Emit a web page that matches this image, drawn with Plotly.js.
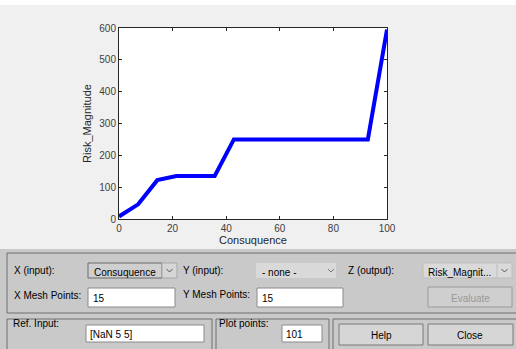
<!DOCTYPE html>
<html><head><meta charset="utf-8">
<script src="https://cdn.plot.ly/plotly-3.0.1.min.js"></script>
<style>html,body{margin:0;padding:0;background:#f0f0f0;overflow:hidden}</style>
</head><body><div id="chart" style="width:516px;height:349px"></div>
<script>
// ---- data ----
const consequence = [0, 7.14, 14.29, 21.43, 28.57, 35.71, 42.86, 50, 57.14, 64.29, 71.43, 78.57, 85.71, 92.86, 100];
const riskMagnitude = [8, 46, 122, 135, 135, 135, 250, 250, 250, 250, 250, 250, 250, 250, 595];
const xTicks = [0, 20, 40, 60, 80, 100];
const yTicks = [0, 100, 200, 300, 400, 500, 600];
const xLabel = 'Consuquence';
const yLabel = 'Risk_Magnitude';
// control panel texts
const xInputLabel = 'X (input):', xInputValue = 'Consuquence';
const yInputLabel = 'Y (input):', yInputValue = '- none -';
const zOutputLabel = 'Z (output):', zOutputValue = 'Risk_Magnit...';
const xMeshLabel = 'X Mesh Points:', xMeshValue = '15';
const yMeshLabel = 'Y Mesh Points:', yMeshValue = '15';
const refInputLabel = 'Ref. Input:', refInputValue = '[NaN 5 5]';
const plotPointsLabel = 'Plot points:', plotPointsValue = '101';
const buttonLabels = ['Evaluate', 'Help', 'Close'];

// ---- layout helpers (pixel -> paper) ----
const W = 516, H = 349, L = 119, R = 387, T = 28, B = 219;
const xp = px => (px - L) / (R - L);
const yp = py => (B - py) / (B - T);
const FONT = 'Liberation Sans, Arial, sans-serif';

const shapes = [];
function rect(x0, y0, x1, y1, fill, line, lw, dash) {
  shapes.push({type: 'rect', xref: 'paper', yref: 'paper', layer: 'above',
    x0: xp(x0), x1: xp(x1), y0: yp(y0), y1: yp(y1),
    fillcolor: fill || 'rgba(0,0,0,0)',
    line: {color: line || 'rgba(0,0,0,0)', width: lw === undefined ? 1 : lw, dash: dash || 'solid'}});
}
function seg(x0, y0, x1, y1, color) {
  shapes.push({type: 'line', xref: 'paper', yref: 'paper', layer: 'above',
    x0: xp(x0), x1: xp(x1), y0: yp(y0), y1: yp(y1), line: {color: color, width: 1}});
}
function chevron(cx, cy, color) {
  shapes.push({type: 'path', xref: 'paper', yref: 'paper', layer: 'above',
    path: `M ${xp(cx - 3)},${yp(cy - 1.5)} L ${xp(cx)},${yp(cy + 1.5)} L ${xp(cx + 3)},${yp(cy - 1.5)}`,
    line: {color: color, width: 1}});
}
const annotations = [];
function txt(x, y, s, opts) {
  opts = opts || {};
  annotations.push({xref: 'paper', yref: 'paper', x: xp(x), y: yp(y), text: s, showarrow: false,
    xanchor: opts.anchor || 'left', yanchor: 'middle', borderpad: 0,
    font: {family: FONT, size: opts.size || 10, color: opts.color || '#000000'}});
}

// white strip at top
shapes.push({type: 'rect', xref: 'paper', yref: 'paper', layer: 'below',
  x0: xp(0), x1: xp(W), y0: yp(0), y1: yp(5), fillcolor: '#ffffff', line: {width: 0}});
// panel background
rect(0, 249, W + 2, H + 2, '#c9c9c9', 'rgba(0,0,0,0)', 0);
// frames
rect(7, 253, W + 3, 313, null, '#6f6f6f', 1);
rect(7, 319, 212, H + 3, null, '#6f6f6f', 1);
rect(216, 319, 329, H + 3, null, '#6f6f6f', 1);
rect(333, 319, W + 3, H + 3, null, '#6f6f6f', 1);

// dropdowns
rect(88, 263, 162, 278, '#cfcfcf', '#6a6a6a', 1);
rect(162, 263, 177, 278, '#d6d6d6', '#a8a8a8', 1);
chevron(169.5, 270.5, '#555555');
rect(256, 263, 336, 278, '#d9d9d9', 'rgba(0,0,0,0)', 0);
chevron(331, 270.5, '#777777');
rect(423, 263, 512, 278, '#dadada', '#bdbdbd', 1);
seg(497, 264, 497, 277, '#bdbdbd');
chevron(504.5, 270.5, '#555555');

// edit boxes
rect(88, 288, 175, 307, '#ffffff', '#8a8a8a', 1);
rect(257, 288, 343, 307, '#ffffff', '#8a8a8a', 1);
rect(86, 325, 204, 342, '#ffffff', '#8a8a8a', 1);
rect(282, 325, 322, 342, '#ffffff', '#8a8a8a', 1);

// buttons
rect(428, 287, 512, 307, '#cfcfcf', '#9a9a9a', 1);
rect(339, 324, 423, 345, '#d6d6d6', '#7a7a7a', 1);
rect(428, 324, 513, 345, '#d6d6d6', '#7a7a7a', 1);

// texts
txt(13, 270, xInputLabel);
txt(93, 272, xInputValue);
txt(182, 270, yInputLabel);
txt(261, 272, yInputValue);
txt(347, 270, zOutputLabel);
txt(427, 272, zOutputValue);
txt(13, 295, xMeshLabel);
txt(92, 298, xMeshValue);
txt(182, 294, yMeshLabel);
txt(261, 298, yMeshValue);
txt(470, 298, buttonLabels[0], {anchor: 'center', color: '#9a9a9a'});
txt(12, 323, refInputLabel);
txt(89, 334, refInputValue);
txt(218, 323, plotPointsLabel);
txt(285, 334, plotPointsValue);
txt(381, 335, buttonLabels[1], {anchor: 'center'});
txt(470, 335, buttonLabels[2], {anchor: 'center'});

const axisCommon = {
  ticks: 'inside', ticklen: 3, tickwidth: 1, tickcolor: '#262626',
  showline: true, linecolor: '#262626', linewidth: 1, mirror: 'ticks',
  showgrid: false, zeroline: false,
  tickfont: {family: FONT, size: 10, color: '#404040'}
};

const trace = {x: consequence, y: riskMagnitude, type: 'scatter', mode: 'lines',
  line: {color: '#0000ff', width: 4}, hoverinfo: 'skip'};

const layout = {
  width: W, height: H,
  margin: {l: L, r: W - R, t: T, b: H - B, pad: 0},
  paper_bgcolor: '#f0f0f0', plot_bgcolor: '#ffffff',
  showlegend: false,
  xaxis: Object.assign({}, axisCommon, {range: [0, 100], tickvals: xTicks,
    title: {text: xLabel, font: {family: FONT, size: 11, color: '#262626'}, standoff: 3}}),
  yaxis: Object.assign({}, axisCommon, {range: [0, 600], tickvals: yTicks,
    title: {text: yLabel, font: {family: FONT, size: 11, color: '#262626'}, standoff: 5}}),
  shapes: shapes,
  annotations: annotations
};

Plotly.newPlot('chart', [trace], layout, {staticPlot: true, displayModeBar: false});
</script>
</body></html>
